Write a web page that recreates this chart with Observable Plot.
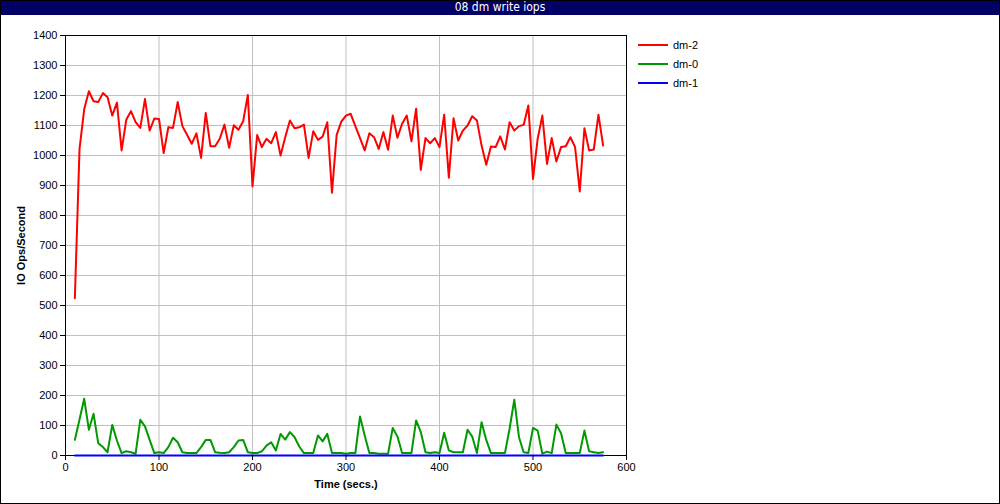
<!DOCTYPE html>
<html>
<head>
<meta charset="utf-8">
<script src="https://cdn.jsdelivr.net/npm/d3@7"></script>
<script src="https://cdn.jsdelivr.net/npm/@observablehq/plot@0.6"></script>
<style>
  html, body { margin: 0; padding: 0; background: #fff; }
  #wrap { position: relative; width: 1000px; height: 504px; overflow: hidden; background: #fff;
          font-family: "Liberation Sans", Arial, sans-serif; }
  #border { position: absolute; left: 0; top: 0; width: 1000px; height: 504px; box-sizing: border-box;
            border: 1px solid #000; pointer-events: none; }
  #title { position: absolute; left: 0; top: 0; width: 1000px; height: 15px; background: #000066; color: #fff;
           font-family: "Liberation Sans Narrow", "DejaVu Sans Condensed", "Liberation Sans", sans-serif;
           font-size: 12px; line-height: 15px; text-align: center; }
  #chart { position: absolute; left: 0; top: 15px; }
  #legend { position: absolute; left: 638px; top: 35px; font-size: 11px; }
  .li { height: 19px; display: flex; align-items: center; }
  .li svg { margin-right: 5px; }
</style>
</head>
<body>
<div id="wrap">
  <div id="title"></div>
  <div id="chart"></div>
  <div id="legend"></div>
  <div id="border"></div>
</div>
<script>
const chartTitle = "08 dm write iops";
const xLabel = "Time (secs.)";
const yLabel = "IO Ops/Second";
const xTicks = [0, 100, 200, 300, 400, 500, 600];
const yTicks = [0, 100, 200, 300, 400, 500, 600, 700, 800, 900, 1000, 1100, 1200, 1300, 1400];
const seriesNames = ["dm-2", "dm-0", "dm-1"];
const seriesColors = ["#ff0000", "#009900", "#0000ff"];

const times = [10,15,20,25,30,35,40,45,50,55,60,65,70,75,80,85,90,95,100,105,
  110,115,120,125,130,135,140,145,150,155,160,165,170,175,180,185,190,195,200,205,
  210,215,220,225,230,235,240,245,250,255,260,265,270,275,280,285,290,295,300,305,
  310,315,320,325,330,335,340,345,350,355,360,365,370,375,380,385,390,395,400,405,
  410,415,420,425,430,435,440,445,450,455,460,465,470,475,480,485,490,495,500,505,
  510,515,520,525,530,535,540,545,550,555,560,565,570,575];

const dm2 = [524,1022,1154,1214,1181,1178,1208,1194,1133,1176,
  1017,1119,1148,1111,1092,1188,1083,1123,1122,1008,
  1094,1092,1178,1098,1069,1039,1074,992,1142,1031,
  1031,1056,1103,1026,1101,1086,1114,1202,897,1068,
  1028,1056,1041,1078,1000,1061,1117,1091,1094,1103,
  992,1081,1052,1063,1111,876,1069,1113,1133,1139,
  1098,1058,1017,1074,1061,1022,1078,1019,1133,1059,
  1106,1133,1047,1156,952,1058,1041,1058,1028,1136,
  926,1124,1050,1083,1100,1131,1117,1033,969,1030,
  1028,1064,1020,1111,1083,1098,1102,1167,922,1056,
  1133,972,1058,980,1028,1031,1061,1028,880,1091,
  1017,1020,1136,1033];

const dm0 = [52,120,189,86,139,41,28,11,102,50,
  8,14,11,6,119,97,52,8,11,8,
  28,59,44,11,8,8,8,28,52,52,
  11,9,8,11,28,50,52,11,8,8,
  14,33,44,17,72,53,78,61,30,8,
  8,8,67,47,72,8,8,8,6,8,
  8,130,67,8,8,6,6,6,92,63,
  8,8,8,117,78,11,8,11,8,76,
  17,11,11,11,86,63,8,111,52,8,
  8,8,8,90,186,61,11,8,92,83,
  6,13,8,103,74,8,8,8,8,83,
  14,11,8,11];

const dm1 = [0,0,0,0,0,0,0,0,0,0, 0,0,0,0,0,0,0,0,0,0,
  0,0,0,0,0,0,0,0,0,0, 0,0,0,0,0,0,0,0,0,0,
  0,0,0,0,0,0,0,0,0,0, 0,0,0,0,0,0,0,0,0,0,
  0,0,0,0,0,0,0,0,0,0, 0,0,0,0,0,0,0,0,0,0,
  0,0,0,0,0,0,0,0,0,0, 0,0,0,0,0,0,0,0,0,0,
  0,0,0,0,0,0,0,0,0,0, 0,0,0,0];

const seriesValues = [dm2, dm0, dm1];

document.getElementById("title").textContent = chartTitle;

const data = [];
seriesNames.forEach((name, i) => {
  times.forEach((t, j) => data.push({series: name, t, v: seriesValues[i][j]}));
});

const plot = Plot.plot({
  width: 1000,
  height: 489,
  marginLeft: 65,
  marginRight: 374,
  marginTop: 20,
  marginBottom: 49,
  style: {fontFamily: "'Liberation Sans', Arial, sans-serif", fontSize: "11px", color: "#000", background: "transparent", overflow: "visible"},
  x: {domain: [0, 600], ticks: xTicks},
  y: {domain: [0, 1400], ticks: yTicks},
  color: {domain: seriesNames, range: seriesColors},
  marks: [
    Plot.gridY(yTicks, {stroke: "#c0c0c0", strokeOpacity: 1, strokeWidth: 1}),
    Plot.gridX(xTicks, {stroke: "#c0c0c0", strokeOpacity: 1, strokeWidth: 1}),
    Plot.frame({stroke: "#000", strokeWidth: 1}),
    Plot.line(data, {x: "t", y: "v", z: "series", stroke: "series", strokeWidth: 2, curve: "linear"}),
    Plot.axisX(xTicks, {tickSize: 5, tickPadding: 3, tickFormat: d3.format("d"), label: xLabel, labelAnchor: "center", labelArrow: "none", labelOffset: 32, stroke: "#000"}),
    Plot.axisY(yTicks, {tickSize: 5, tickPadding: 3, tickFormat: d3.format("d"), label: yLabel, labelAnchor: "center", labelArrow: "none", labelOffset: 48, stroke: "#000"})
  ]
});
document.getElementById("chart").appendChild(plot);

// bold axis labels
d3.select(plot).selectAll('[aria-label="x-axis label"] text, [aria-label="y-axis label"] text')
  .style("font-weight", "bold");

// legend
const legend = d3.select("#legend");
seriesNames.forEach((name, i) => {
  const row = legend.append("div").attr("class", "li");
  const s = row.append("svg").attr("width", 30).attr("height", 4);
  s.append("line").attr("x1", 0).attr("x2", 30).attr("y1", 2).attr("y2", 2)
    .attr("stroke", seriesColors[i]).attr("stroke-width", 2);
  row.append("span").text(name);
});
</script>
</body>
</html>
